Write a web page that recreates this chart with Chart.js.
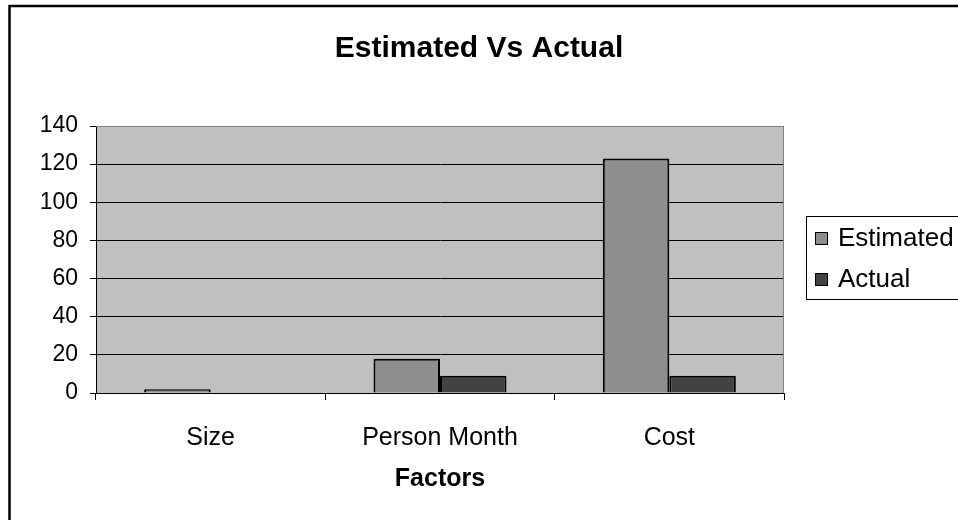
<!DOCTYPE html>
<html>
<head>
<meta charset="utf-8">
<script src="https://cdn.jsdelivr.net/npm/chart.js@4.4.1/dist/chart.umd.min.js"></script>
<style>
  html, body { margin: 0; padding: 0; background: #fff; }
  #wrap { width: 958px; height: 520px; }
</style>
</head>
<body>
<div id="wrap"><canvas id="myChart" width="958" height="520"></canvas></div>
<script>
// datos del grafico
const categories = ['Size', 'Person Month', 'Cost'];
const estimated = [2, 18, 123];
const actual = [0, 9, 9];
const seriesNames = ['Estimated', 'Actual'];
const yMax = 140;
const yStep = 20;

const FONT = "'Liberation Sans', Arial, sans-serif";

// fondo, borde exterior y area gris del grafico
const fondo = {
    id: 'fondo',
    beforeDraw(chart) {
        const c = chart.ctx, a = chart.chartArea;
        c.save();
        c.fillStyle = '#fff';
        c.fillRect(0, 0, chart.width, chart.height);
        c.strokeStyle = '#000';
        c.lineWidth = 2.5;
        c.beginPath();
        c.moveTo(9.5, chart.height);
        c.lineTo(9.5, 6);
        c.lineTo(chart.width, 6);
        c.stroke();
        c.fillStyle = '#c0c0c0';
        c.fillRect(a.left, a.top, a.right - a.left, a.bottom - a.top);
        c.restore();
    },
    beforeDatasetsDraw(chart) {
        const c = chart.ctx, a = chart.chartArea;
        c.save();
        c.strokeStyle = '#808080';
        c.lineWidth = 1;
        c.beginPath();
        c.moveTo(a.left, a.top + 0.5);
        c.lineTo(a.right - 0.5, a.top + 0.5);
        c.lineTo(a.right - 0.5, a.bottom);
        c.stroke();
        c.restore();
    }
};

// leyenda con recuadro a la derecha
const leyenda = {
    id: 'leyenda',
    afterDraw(chart) {
        const c = chart.ctx;
        const x = 806, y = 216, w = 170, h = 83;
        c.save();
        c.fillStyle = '#fff';
        c.fillRect(x, y, w, h);
        c.strokeStyle = '#000';
        c.lineWidth = 1;
        c.strokeRect(x + 0.5, y + 0.5, w, h);
        c.font = '26px ' + FONT;
        c.textBaseline = 'middle';
        chart.data.datasets.forEach((ds, i) => {
            const cy = 238 + i * 41;
            c.fillStyle = ds.backgroundColor;
            c.fillRect(815, cy - 6, 12, 12);
            c.strokeStyle = '#000';
            c.strokeRect(815.5, cy - 5.5, 12, 12);
            c.fillStyle = '#000';
            c.fillText(ds.label, 838, cy + 1);
        });
        c.restore();
    }
};

const ctx = document.getElementById('myChart').getContext('2d');
const myChart = new Chart(ctx, {
    type: 'bar',
    data: {
        labels: categories,
        datasets: [{
            label: seriesNames[0],
            data: estimated,
            backgroundColor: '#8e8e8e',
            borderColor: '#000',
            borderWidth: 2
        }, {
            label: seriesNames[1],
            data: actual,
            backgroundColor: '#424242',
            borderColor: '#000',
            borderWidth: 2
        }]
    },
    options: {
        responsive: false,
        animation: false,
        devicePixelRatio: 1,
        categoryPercentage: 0.58,
        barPercentage: 1,
        layout: { padding: { left: 0, right: 0, top: 0, bottom: 0 } },
        plugins: {
            legend: { display: false },
            tooltip: { enabled: false },
            title: {
                display: true,
                text: 'Estimated Vs Actual',
                color: '#000',
                font: { family: FONT, size: 30, weight: 'bold' },
                padding: { top: 31, bottom: 59 }
            }
        },
        scales: {
            x: {
                grid: { drawOnChartArea: false, tickLength: 7, tickColor: '#000', offset: true },
                border: { color: '#000', width: 1 },
                ticks: { color: '#000', font: { family: FONT, size: 25 }, padding: 23, maxRotation: 0 },
                title: {
                    display: true,
                    text: 'Factors',
                    color: '#000',
                    font: { family: FONT, size: 25, weight: 'bold' },
                    padding: { top: 0, bottom: 26 }
                },
                afterFit(scale) { scale.height = 127; }
            },
            y: {
                min: 0,
                max: yMax,
                grid: { color: '#000', lineWidth: 1, tickLength: 6, tickColor: '#000' },
                border: { color: '#000', width: 1 },
                ticks: { stepSize: yStep, color: '#000', font: { family: FONT, size: 23 }, padding: 12 },
                afterFit(scale) { scale.width = 96; }
            },
            espacio: {
                type: 'linear',
                position: 'right',
                grid: { display: false },
                border: { display: false },
                ticks: { display: false },
                afterFit(scale) { scale.width = 174; }
            }
        }
    },
    plugins: [fondo, leyenda]
});
</script>
</body>
</html>
